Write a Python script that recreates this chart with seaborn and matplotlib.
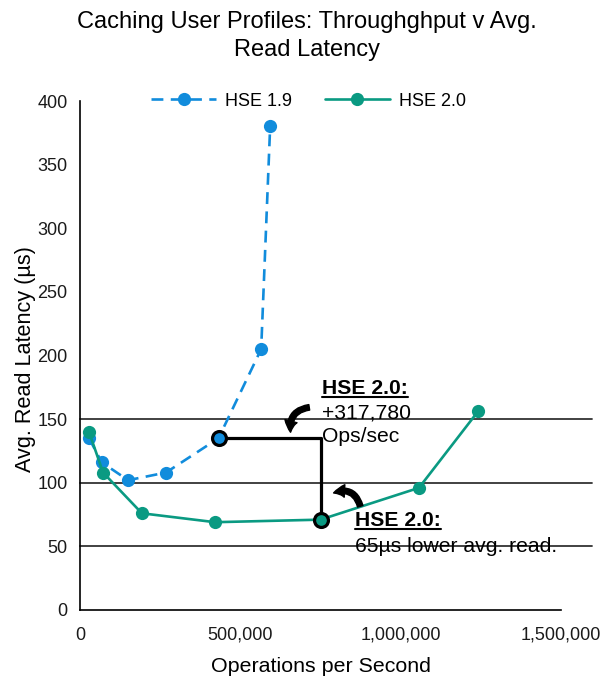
import matplotlib
matplotlib.use("Agg")
import matplotlib.pyplot as plt
import seaborn as sns
import pandas as pd
from matplotlib.patches import FancyArrowPatch
from matplotlib.lines import Line2D

# ---- data ----
hse19_ops = [28000, 68000, 150000, 268000, 432000, 565000, 593000]
hse19_lat = [135, 116, 102, 108, 135, 205, 380]
hse20_ops = [28000, 72000, 193000, 421000, 750000, 1057000, 1241000]
hse20_lat = [140, 108, 76, 69, 71, 96, 156]
series_names = ["HSE 1.9", "HSE 2.0"]
ref_lines = [150, 100, 50]
x_ticks = [0, 500000, 1000000, 1500000]
y_ticks = [0, 50, 100, 150, 200, 250, 300, 350, 400]

df = pd.DataFrame({
    "ops": hse19_ops + hse20_ops,
    "lat": hse19_lat + hse20_lat,
    "series": [series_names[0]] * len(hse19_ops) + [series_names[1]] * len(hse20_ops),
})

BLUE = "#118CDC"
GREEN = "#0A9A82"
DASH = (4.5, 2.8)

sns.set_style("white")
plt.rcParams["font.family"] = ["Liberation Sans", "DejaVu Sans"]
plt.rcParams["text.color"] = "black"

fig = plt.figure(figsize=(6.13, 6.87), dpi=100)
ax = fig.add_axes([80 / 613, 1 - 610 / 687, 481 / 613, 509 / 687])

sns.lineplot(data=df, x="ops", y="lat", hue="series", style="series",
             palette={series_names[0]: BLUE, series_names[1]: GREEN},
             dashes={series_names[0]: DASH, series_names[1]: ""},
             markers={series_names[0]: "o", series_names[1]: "o"},
             markersize=9.5, markeredgewidth=0, linewidth=1.9,
             sort=False, estimator=None, ax=ax, zorder=3)

ax.set_xlim(0, 1500000)
ax.set_ylim(0, 400)
ax.set_xticks(x_ticks)
ax.set_xticklabels([f"{v:,}" for v in x_ticks])
ax.set_yticks(y_ticks)
ax.tick_params(axis="both", length=0, labelsize=13, colors="#1a1a1a")
ax.tick_params(axis="x", pad=12)
ax.tick_params(axis="y", pad=9)
for s in ["top", "right"]:
    ax.spines[s].set_visible(False)
for s in ["left", "bottom"]:
    ax.spines[s].set_color("black")
    ax.spines[s].set_linewidth(1.2)

ax.set_xlabel("Operations per Second", fontsize=15.4, color="black")
ax.set_ylabel("Avg. Read Latency (µs)", fontsize=15.6, color="black")
ax.xaxis.set_label_coords((321 - 80) / 481, -(666 - 610) / 509)
ax.yaxis.set_label_coords(-(80 - 26) / 481, (610 - 359) / 509)
ax.xaxis.label.set_va("center")
ax.yaxis.label.set_va("center")

# reference lines extending past the axis
for yv in ref_lines:
    ax.axhline(yv, xmin=0, xmax=(592 - 80) / 481, color="#333333", lw=1.3,
               clip_on=False, zorder=1)

# bracket
i19 = 4
i20 = 4
ax.plot([hse19_ops[i19], hse20_ops[i20], hse20_ops[i20]],
        [hse19_lat[i19], hse19_lat[i19], hse20_lat[i20]],
        color="black", lw=2.3, zorder=4, solid_capstyle="butt")
ax.plot([hse19_ops[i19]], [hse19_lat[i19]], "o", ms=10, mfc=BLUE, mec="black", mew=2.3, zorder=5)
ax.plot([hse20_ops[i20]], [hse20_lat[i20]], "o", ms=10, mfc=GREEN, mec="black", mew=2.3, zorder=5)

# curved arrows
def px2data(px, py):
    return ((px - 80) / 481 * 1500000, (610 - py) / 509 * 400)

astyle = "simple,head_width=9,head_length=8,tail_width=4"
a1 = FancyArrowPatch(px2data(312, 407), px2data(291, 435),
                     connectionstyle="arc3,rad=0.55", arrowstyle=astyle,
                     color="black", zorder=6, mutation_scale=1)
ax.add_patch(a1)
a2 = FancyArrowPatch(px2data(361, 509), px2data(331, 494),
                     connectionstyle="arc3,rad=0.6", arrowstyle=astyle,
                     color="black", zorder=6, mutation_scale=1)
ax.add_patch(a2)

# annotation text
fs = 15.2
t1 = ax.text(*px2data(322, 389), "HSE 2.0:", fontsize=fs, fontweight="bold", va="center", ha="left", zorder=7)
ax.text(*px2data(322, 413), "+317,780", fontsize=fs, va="center", ha="left", zorder=7)
ax.text(*px2data(322, 437), "Ops/sec", fontsize=fs, va="center", ha="left", zorder=7)
t2 = ax.text(*px2data(355, 521), "HSE 2.0:", fontsize=fs, fontweight="bold", va="center", ha="left", zorder=7)
ax.text(*px2data(355, 546), "65µs lower avg. read.", fontsize=fs, va="center", ha="left", zorder=7)

# legend
h19 = Line2D([], [], color=BLUE, lw=1.9, ls=(0, DASH), marker="o", ms=9.5, mew=0)
h20 = Line2D([], [], color=GREEN, lw=1.9, marker="o", ms=9.5, mew=0)
ax.legend([h19, h20], series_names, loc="center", bbox_to_anchor=(0.5 - 12 / 481, 1.0),
          ncol=2, frameon=False, fontsize=13, handlelength=3.6, columnspacing=1.8,
          handletextpad=0.5)

fig.text(0.5, 1 - 22 / 687, "Caching User Profiles: Throughghput v Avg.", ha="center", va="center", fontsize=17)
fig.text(0.5, 1 - 50 / 687, "Read Latency", ha="center", va="center", fontsize=17)

# underline bold labels
fig.canvas.draw()
r = fig.canvas.get_renderer()
for t in (t1, t2):
    bb = t.get_window_extent(r)
    y = bb.y0 + 1.5
    fig.add_artist(Line2D([bb.x0 / fig.bbox.width, bb.x1 / fig.bbox.width],
                          [y / fig.bbox.height, y / fig.bbox.height],
                          color="black", lw=1.5, transform=fig.transFigure))

fig.savefig("out.png", dpi=100)
